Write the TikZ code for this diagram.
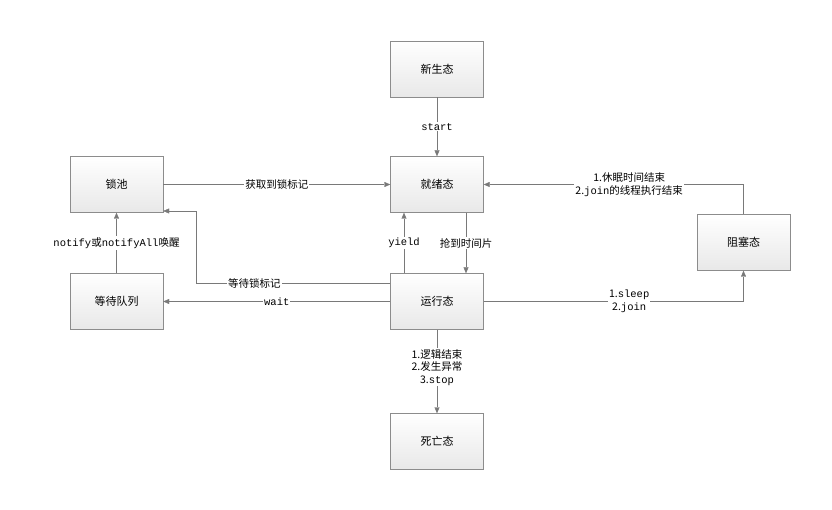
\documentclass[tikz,border=0pt]{standalone}
\usepackage{fontspec}
\setmainfont{Noto Sans CJK SC}
\newfontfamily\mo{Liberation Mono}
\usetikzlibrary{arrows.meta}
\begin{document}
\begin{tikzpicture}[x=1pt,y=-1pt,
  st/.style={draw=gray!90,top color=white,bottom color=gray!18,minimum width=93pt,minimum height=56pt,inner sep=0pt,font=\fontsize{11}{13}\selectfont},
  ar/.style={draw=gray!95!black,-{Triangle[length=6pt,width=5pt]}},
  lb/.style={fill=white,inner sep=1pt,font=\fontsize{10.5}{12.5}\selectfont,align=center}]
\useasboundingbox (0,0) rectangle (832,510);
\node[st] (new) at (437,69) {新生态};
\node[st] (ready) at (437,184.5) {就绪态};
\node[st] (run) at (437,301.5) {运行态};
\node[st] (dead) at (437,441.5) {死亡态};
\node[st] (lock) at (116.5,184.5) {锁池};
\node[st] (wq) at (116.5,301.5) {等待队列};
\node[st] (blk) at (743.5,242.5) {阻塞态};
\draw[ar] (new) -- node[lb]{\mo start} (ready);
\draw[ar] (lock) -- node[lb]{获取到锁标记} (ready);
\draw[ar] (blk.north) |- node[lb,pos=0.72]{1.休眠时间结束\\2.{\mo join}的线程执行结束} (ready.east);
\draw[ar] (run.north -| 404,0) -- node[lb]{\mo yield} (ready.south -| 404,0);
\draw[ar] (ready.south -| 466,0) -- node[lb]{抢到时间片} (run.north -| 466,0);
\coordinate (c1) at (196,283);
\coordinate (c2) at (196,211);
\draw[ar] (run.west |- c1) -- node[lb,pos=0.7]{等待锁标记} (c1) -- (c2) -- (lock.east |- c2);
\draw[ar] (run.west) -- node[lb,pos=0.5]{\mo wait} (wq.east);
\draw[ar] (wq) -- node[lb]{{\mo notify}或{\mo notifyAll}唤醒} (lock);
\draw[ar] (run.east) -| node[lb,pos=0.28]{1.{\mo sleep}\\2.{\mo join}} (blk.south);
\draw[ar] (run) -- node[lb,pos=0.45]{1.逻辑结束\\2.发生异常\\3.{\mo stop}} (dead);
\end{tikzpicture}
\end{document}
